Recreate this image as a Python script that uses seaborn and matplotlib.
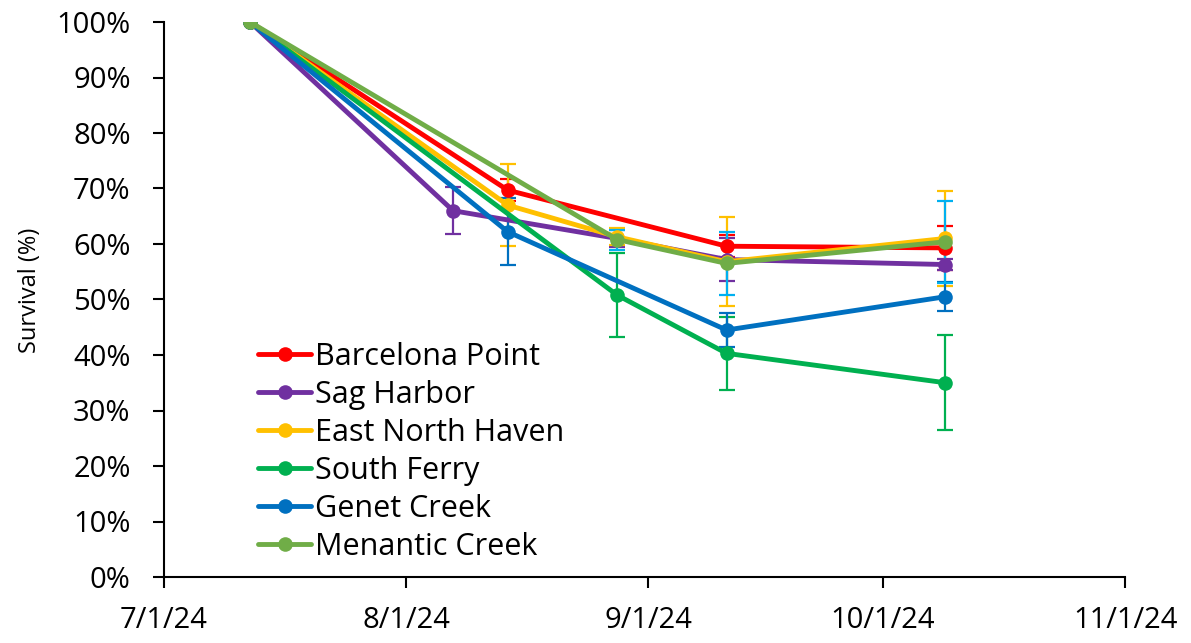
import matplotlib
matplotlib.use("Agg")
import matplotlib.pyplot as plt
import matplotlib.dates as mdates
from matplotlib.ticker import FuncFormatter, MultipleLocator
import pandas as pd
import seaborn as sns

# Survival of each site on its sampling dates (percent) with error (+/- percent)
sites = ["Barcelona Point", "Sag Harbor", "East North Haven",
         "South Ferry", "Genet Creek", "Menantic Creek"]

barcelona_dates = ["2024-07-12", "2024-08-14", "2024-09-11", "2024-10-09"]
barcelona_surv = [100, 69.7, 59.6, 59.3]
barcelona_err = [0, 2.0, 2.0, 4.0]

sag_dates = ["2024-07-12", "2024-08-07", "2024-08-28", "2024-09-11", "2024-10-09"]
sag_surv = [100, 66.0, 61.0, 57.2, 56.3]
sag_err = [0, 4.2, 1.5, 3.8, 1.0]

enh_dates = ["2024-07-12", "2024-08-14", "2024-08-28", "2024-09-11", "2024-10-09"]
enh_surv = [100, 67.0, 61.3, 56.8, 61.0]
enh_err = [0, 7.4, 1.5, 8.0, 8.6]

ferry_dates = ["2024-07-12", "2024-08-28", "2024-09-11", "2024-10-09"]
ferry_surv = [100, 50.8, 40.3, 35.0]
ferry_err = [0, 7.6, 6.6, 8.6]

genet_dates = ["2024-07-12", "2024-08-14", "2024-09-11", "2024-10-09"]
genet_surv = [100, 62.2, 44.5, 50.5]
genet_err = [0, 6.0, 3.0, 2.6]

menantic_dates = ["2024-07-12", "2024-08-28", "2024-09-11", "2024-10-09"]
menantic_surv = [100, 60.8, 56.5, 60.4]
menantic_err = [0, 1.8, 5.7, 7.4]

line_colors = ["#FF0000", "#7030A0", "#FFC000", "#00B050", "#0070C0", "#70AD47"]
err_colors = ["#FF0000", "#7030A0", "#FFC000", "#00B050", "#0070C0", "#00B0F0"]

series = [
    (barcelona_dates, barcelona_surv, barcelona_err),
    (sag_dates, sag_surv, sag_err),
    (enh_dates, enh_surv, enh_err),
    (ferry_dates, ferry_surv, ferry_err),
    (genet_dates, genet_surv, genet_err),
    (menantic_dates, menantic_surv, menantic_err),
]

frames = []
for name, (d, s, e) in zip(sites, series):
    frames.append(pd.DataFrame({"site": name, "date": pd.to_datetime(d),
                                "survival": [v / 100 for v in s],
                                "err": [v / 100 for v in e]}))
df = pd.concat(frames, ignore_index=True)

sns.set_theme(style="white")
plt.rcParams["font.family"] = ["Open Sans", "DejaVu Sans"]
plt.rcParams["text.color"] = "black"
plt.rcParams["axes.labelcolor"] = "black"
plt.rcParams["xtick.color"] = "black"
plt.rcParams["ytick.color"] = "black"

fig = plt.figure(figsize=(11.91, 6.43), dpi=100)
ax = fig.add_axes([164 / 1191, 1 - 577 / 643, (1125 - 164) / 1191, (577 - 22) / 643])

# error bars underneath the lines
for name, ec in zip(sites, err_colors):
    sub = df[df["site"] == name]
    sub = sub[sub["err"] > 0]
    ax.errorbar(sub["date"], sub["survival"], yerr=sub["err"], fmt="none",
                ecolor=ec, elinewidth=1.6, capsize=5.5, capthick=1.6, zorder=1.5)

sns.lineplot(data=df, x="date", y="survival", hue="site", hue_order=sites,
             palette=line_colors, marker="o", markersize=10.5, markeredgewidth=0,
             linewidth=3.5, sort=True, estimator=None, ax=ax, zorder=3)

ax.set_xlim(pd.Timestamp("2024-07-01"), pd.Timestamp("2024-11-01"))
ax.set_ylim(0, 1.0)
ax.xaxis.set_major_locator(mdates.MonthLocator())
ax.xaxis.set_major_formatter(FuncFormatter(
    lambda v, p: (lambda d: f"{d.month}/{d.day}/{d:%y}")(mdates.num2date(v))))
ax.yaxis.set_major_locator(MultipleLocator(0.1))
ax.yaxis.set_major_formatter(FuncFormatter(lambda v, p: f"{round(v * 100)}%"))

for side in ["top", "right"]:
    ax.spines[side].set_visible(False)
for side in ["left", "bottom"]:
    ax.spines[side].set_color("black")
    ax.spines[side].set_linewidth(1.5)

ax.tick_params(axis="y", direction="out", length=8, width=1.5, color="black",
               labelsize=21, pad=16, left=True)
ax.tick_params(axis="x", direction="out", length=8, width=1.5, color="black",
               labelsize=21, pad=13, bottom=True)

ax.set_xlabel("")
ax.set_ylabel("Survival (%)", fontsize=17)
ax.yaxis.set_label_coords(30 / 1191, 1 - 290 / 643, transform=fig.transFigure)
ax.yaxis.label.set_verticalalignment("center")

handles, labels = ax.get_legend_handles_labels()
ax.legend(handles, labels, loc="upper left", bbox_to_anchor=(258 / 1191, 1 - 342 / 643),
          bbox_transform=fig.transFigure, frameon=False, fontsize=22,
          handlelength=1.75, handletextpad=0.12, labelspacing=0.26,
          borderpad=0, borderaxespad=0)

fig.savefig("out.png", dpi=100)
